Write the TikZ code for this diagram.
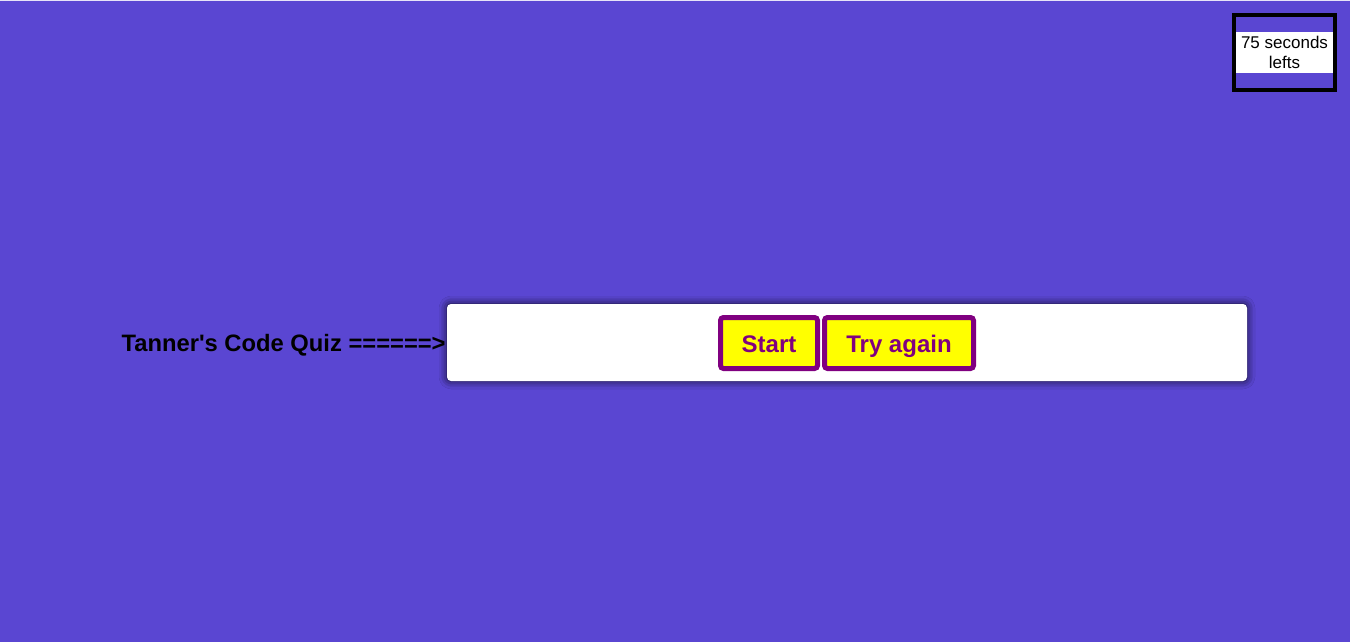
\documentclass[tikz,border=0pt]{standalone}
\usepackage{fontspec}
\setmainfont{Liberation Sans}[Ligatures=TeXOff]
\usetikzlibrary{positioning,shadows.blur}
\definecolor{quizbg}{RGB}{90,70,210}
\definecolor{quizpurple}{RGB}{128,0,128}
\definecolor{quizyellow}{RGB}{255,255,0}
\tikzset{quizbtn/.style={draw=quizpurple, fill=quizyellow, line width=5pt, rounded corners=3pt,
    text=quizpurple, font=\fontsize{24}{28}\selectfont\bfseries, minimum height=51pt, inner sep=0pt,
    text height=18pt, text depth=0pt}}

\begin{document}
\begin{tikzpicture}[x=1pt,y=-1pt]
        \fill[quizbg] (0,0) rectangle (1350,642);
        \useasboundingbox (0,0) rectangle (1350,642);
        \fill[white!85!quizbg] (0,0) rectangle (1350,1.2);

        % timer
        \fill[white] (1234,32) rectangle (1335,73);
        \node[draw, line width=3.5pt, minimum width=101pt, minimum height=75pt, inner sep=0pt] (timer) at (1284.5,52.5) {};
        \node[align=center, font=\fontsize{17}{20}\selectfont] (timertext) at (timer.center) {75 seconds\\lefts};

        % panel with the buttons
        \node[fill=white, rounded corners=4pt, minimum width=800pt, minimum height=77pt, inner sep=0pt,
            blur shadow={shadow xshift=0pt, shadow yshift=0pt, shadow blur radius=8pt, shadow opacity=85}] (panel) at (847,342.5) {};
        \node[quizbtn, minimum width=97pt] (start) at (769,343) {Start};
        \node[quizbtn, minimum width=149pt, right=2pt of start] (tryagain) {Try again};

        \node[font=\fontsize{23.75}{28}\selectfont\bfseries, inner sep=1pt, text height=18pt, text depth=0pt,
            left=0pt of panel] (title) {Tanner's Code Quiz ======>};
\end{tikzpicture}
\end{document}
